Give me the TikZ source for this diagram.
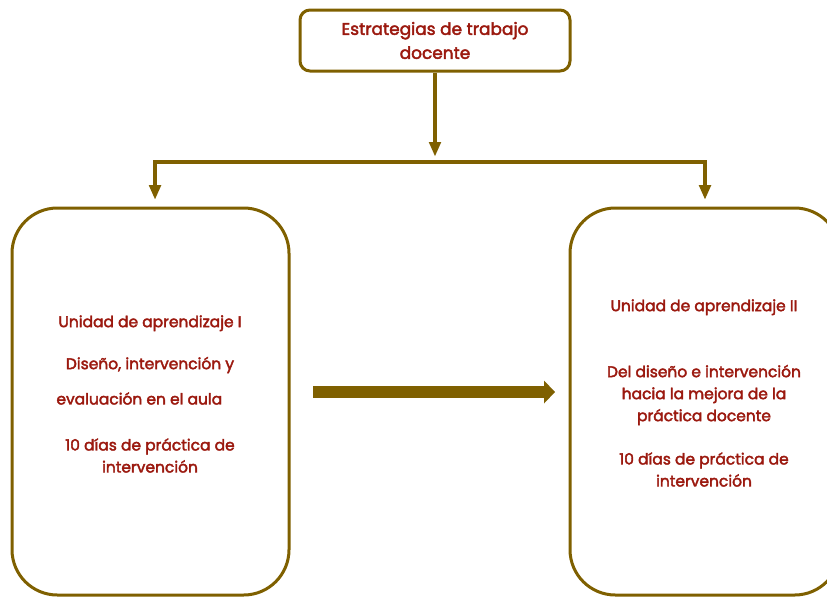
\documentclass[tikz,border=0pt]{standalone}
\usepackage{fontspec}
\setmainfont{Poppins}[FakeBold=2.5]
\usetikzlibrary{arrows.meta,positioning,calc}
\definecolor{unitbrown}{RGB}{127,96,0}
\definecolor{unitred}{RGB}{155,25,15}

\begin{document}
\begin{tikzpicture}[
    x=0.75pt, y=-0.75pt,
    every node/.style={font=\fontsize{11.6}{16.5}\selectfont, text=unitred},
    topbox/.style={draw=unitbrown, line width=2.25pt, rounded corners=7.5pt,
        minimum width=202.5pt, minimum height=45.75pt, align=center,
        font=\fontsize{12.7}{18}\selectfont},
    unitbox/.style={draw=unitbrown, line width=2.25pt, rounded corners=34pt,
        minimum height=290.25pt},
    txt/.style={align=center, inner sep=0pt},
    link/.style={unitbrown, line width=3pt,
        -{Triangle[length=11pt, width=8.5pt]}},
    flow/.style={unitbrown, line width=9pt,
        -{Triangle[length=8.25pt, width=17.25pt, line width=0pt]}}
]
    \useasboundingbox (0,0) rectangle (827,597);
    \clip (0,0) rectangle (827,597);

    % Main box
    \node[topbox] (top) at (435,40.5) {Estrategias de trabajo\\docente};

    % Learning units
    \node[unitbox, minimum width=207.75pt] (uni1) at (150.5,401.5) {};
    \node[unitbox, minimum width=202.5pt] (uni2) at (705,401.5) {};

    \node[txt] (uni1txt) at (150,394) {Unidad de aprendizaje I\\[15pt]
        Diseño, intervención y\\[10pt]
        evaluación en el aula\rule{16pt}{0pt}\\[18pt]
        10 días de práctica de\\
        intervención};
    \node[txt] (uni2txt) at (704,393) {Unidad de aprendizaje II\\[33pt]
        Del diseño e intervención\\
        hacia la mejora de la\\
        práctica docente\\[16pt]
        10 días de práctica de\\
        intervención};

    % Branching arrows
    \coordinate (split) at (435,162);
    \draw[link] (top) -- ([yshift=4pt]split);
    \draw[link] (split) -| ([xshift=3.4pt, yshift=5pt]uni1.north);
    \draw[link] (split) -| ([yshift=5pt]uni2.north);

    % Flow between units
    \coordinate (flowstart) at (313,392);
    \coordinate (flowend) at (555,392);
    \draw[flow] (flowstart) -- (flowend);

\end{tikzpicture}
\end{document}
